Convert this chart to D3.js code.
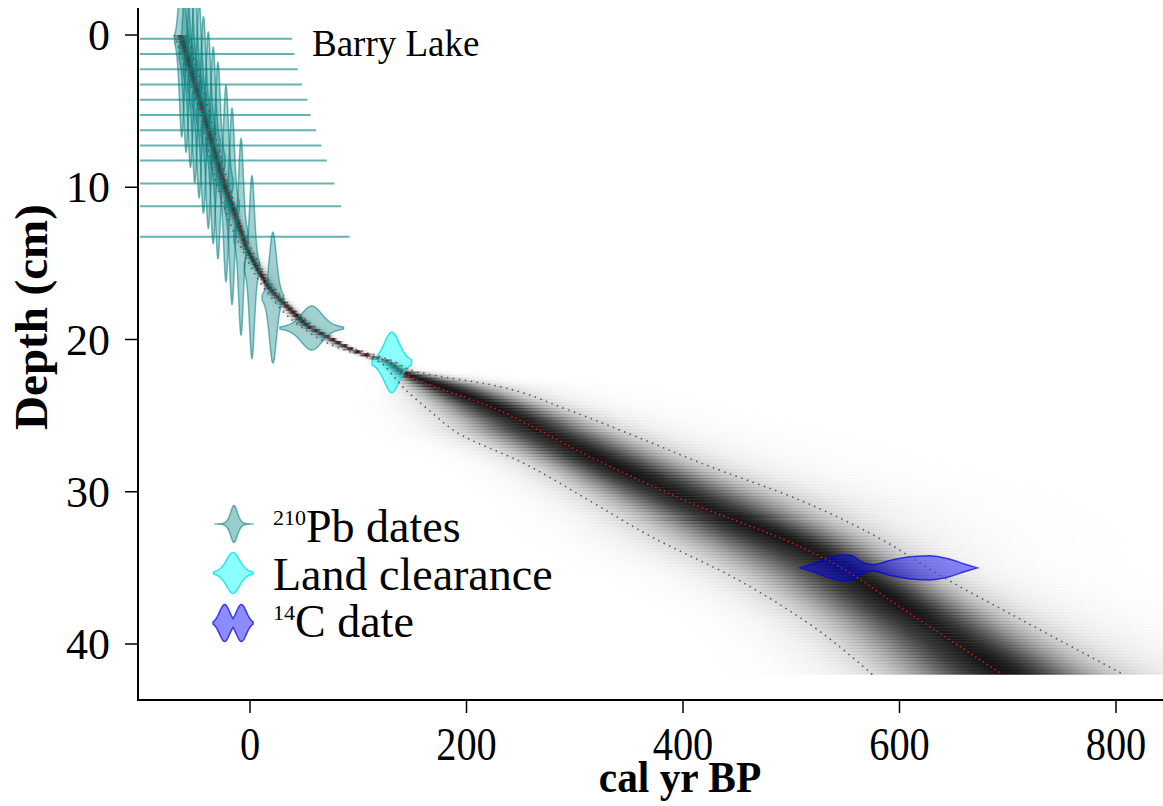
<!DOCTYPE html>
<html lang="en">
<head>
<meta charset="UTF-8">
<title>Barry Lake age-depth model</title>
<script src="https://cdn.jsdelivr.net/npm/d3@7"></script>
<style>
    body{ margin:0; background:#fff; }
    svg{ display:block; font-family:"Liberation Serif","Times New Roman",serif; }
</style>
</head>
<body>
<svg width="1163" height="806"></svg>
<script>
    // age-depth model (cal yr BP)
    var meanDepths = [0, 3, 6, 9, 12, 14, 15.4, 16.5, 17.6, 19.2, 20, 20.9, 21.4, 22.2, 24.4, 27.7, 30.7, 33.6, 34.7, 37.45, 42];
    var meanAges   = [-64, -52, -40, -27, -12, -3, 6.5, 16, 31, 55, 77, 102, 127, 141, 222, 314, 406, 508, 539, 598, 695];

    // 95% range: older and younger bounds
    var oldDepths   = [0, 5, 10, 14, 17, 19, 20.5, 21.5, 22.0, 23.1, 24.6, 26.3, 28.1, 30.55, 33, 35.6, 38.5, 42];
    var oldAges     = [-58, -38, -19, 1, 27, 57, 92, 135, 148, 231, 293, 354, 416, 508, 580, 640, 715, 807];
    var youngDepths = [0, 5, 10, 14, 17, 19, 20.5, 21.5, 22.2, 23.1, 24.8, 26.1, 28.1, 30.6, 33, 35.6, 38.5, 42];
    var youngAges   = [-70, -47, -30, -8, 17, 44, 80, 120, 130, 141, 168, 191, 252, 314, 372, 446, 513, 575];

    // 210Pb dates
    var pbDepths = [0.25, 1.25, 2.25, 3.25, 4.25, 5.25, 6.25, 7.25, 8.25, 9.75, 11.25, 13.25, 15.25, 17.25, 19.25];
    var pbAges   = [-63, -59, -55, -51, -47, -43, -38.5, -34, -29.6, -22.2, -16.6, -8.3, 1.8, 21.2, 57];
    var pbErrors = [2, 2, 2, 2, 2, 2, 2, 2, 2, 2, 2, 2, 2.15, 3, 8.9];
    // horizontal Pb lines (first 12 depths) end at these ages
    var pbLineEnds = [39, 41, 44, 48, 53, 56, 61, 66, 71, 78, 84, 92];

    // land clearance marker
    var lcDepth = 21.5, lcAge = 131, lcError = 6.5;

    // 14C date, calibrated distribution
    var c14Depth = 35.0;
    var c14Ages  = [508, 520, 535, 548, 556, 565, 575, 590, 610, 628, 645, 660, 672];
    var c14Probs = [0, 0.3, 0.75, 1.0, 0.92, 0.45, 0.23, 0.55, 0.85, 0.93, 0.7, 0.3, 0];

    var xTicks = [0, 200, 400, 600, 800];
    var yTicks = [0, 10, 20, 30, 40];

    var svg = d3.select("svg");
    var x = d3.scaleLinear().domain([0, 800]).range([250, 1116]);
    var y = d3.scaleLinear().domain([0, 40]).range([35, 644]);
    var pLeft = 138, pRight = 1163, pTop = 8, pBottom = 700;

    var meanAt = d3.scaleLinear().domain(meanDepths).range(meanAges);
    var oldAt = d3.scaleLinear().domain(oldDepths).range(oldAges);
    var youngAt = d3.scaleLinear().domain(youngDepths).range(youngAges);

    var defs = svg.append("defs");
    defs.append("clipPath").attr("id", "plotclip")
        .append("rect").attr("x", pLeft).attr("y", pTop)
        .attr("width", pRight - pLeft).attr("height", pBottom - pTop);

    var plot = svg.append("g").attr("clip-path", "url(#plotclip)");

    // grey cloud, one gradient row per depth slice
    function shade(z) {
        var a = Math.abs(z);
        var v = 0.9 * (0.66 * Math.exp(-0.5 * Math.pow(a / 0.82, 2))
            + 0.3 * Math.exp(-0.5 * Math.pow(a / 1.35, 2)));
        if (z > 0) v += 0.05 * Math.exp(-0.5 * Math.pow(a / 2.8, 2));
        return v;
    }
    var step = 0.2;
    var cloud = plot.append("g");
    for (var d = 0; d <= 42 + 1e-9; d += step) {
        var m = meanAt(d),
            sdL = Math.max((m - youngAt(d)) / 1.96, 1.5),
            sdR = Math.max((oldAt(d) - m) / 1.96, 1.5);
        var a0 = m - 7 * sdL, a1 = m + 7 * sdR;
        var id = "row" + Math.round(d * 10);
        var g = defs.append("linearGradient").attr("id", id)
            .attr("gradientUnits", "userSpaceOnUse")
            .attr("x1", x(a0)).attr("x2", x(a1)).attr("y1", 0).attr("y2", 0);
        for (var z = -7; z <= 7.001; z += 0.2) {
            var age = m + z * (z < 0 ? sdL : sdR);
            g.append("stop").attr("offset", (age - a0) / (a1 - a0))
                .attr("stop-color", "#000").attr("stop-opacity", shade(z));
        }
        var d0 = Math.max(0, d - step / 2), d1 = Math.min(42, d + step / 2);
        cloud.append("rect")
            .attr("x", x(a0)).attr("width", x(a1) - x(a0))
            .attr("y", y(d0)).attr("height", y(d1) - y(d0) + 0.3)
            .attr("fill", "url(#" + id + ")");
    }

    // horizontal Pb lines
    plot.append("g").selectAll("line").data(pbLineEnds).enter().append("line")
        .attr("x1", pLeft + 2).attr("x2", function (a) { return x(a); })
        .attr("y1", function (a, i) { return y(pbDepths[i]); })
        .attr("y2", function (a, i) { return y(pbDepths[i]); })
        .attr("stroke", "rgba(0,128,128,0.6)").attr("stroke-width", 2);

    // student-t shaped date distributions
    function tdens(z) { return Math.pow(4 + z * z / 2, -3.5); }
    var tArea = 0;
    for (var zz = -60; zz <= 60; zz += 0.01) tArea += tdens(zz) * 0.01;
    var dateScale = 38.9; // cm * yr

    function datePoints(depth, mu, sd, span) {
        var pts = [];
        for (var i = 0; i <= 120; i++) {
            var age = mu - span * sd + i * 2 * span * sd / 120;
            var p = tdens((age - mu) / sd) / (tArea * sd);
            pts.push({age: age, depth: depth, h: dateScale * p});
        }
        return pts;
    }
    var dateArea = d3.area()
        .x(function (p) { return x(p.age); })
        .y0(function (p) { return y(p.depth - p.h); })
        .y1(function (p) { return y(p.depth + p.h); })
        .curve(d3.curveLinear);

    plot.append("g").selectAll("path").data(pbDepths).enter().append("path")
        .attr("d", function (dp, i) { return dateArea(datePoints(dp, pbAges[i], pbErrors[i], 3.3)); })
        .attr("fill", "rgba(0,128,128,0.36)")
        .attr("stroke", "rgba(0,128,128,0.55)").attr("stroke-width", 1.5);

    plot.append("path")
        .attr("d", dateArea(datePoints(lcDepth, lcAge, lcError, 2.8)))
        .attr("fill", "rgba(0,255,255,0.45)")
        .attr("stroke", "rgba(0,225,225,0.8)").attr("stroke-width", 1.5);

    var c14h = d3.scaleLinear().domain([0, 1]).range([0, 0.86]);
    var c14pts = c14Ages.map(function (a, i) { return {age: a, depth: c14Depth, h: c14h(c14Probs[i])}; });
    plot.append("path")
        .attr("d", dateArea.curve(d3.curveMonotoneX)(c14pts))
        .attr("fill", "rgba(0,0,255,0.45)")
        .attr("stroke", "rgba(0,0,220,0.7)").attr("stroke-width", 1.5);

    // mean and 95% range lines
    function lineOf(ds, as) {
        return d3.line().curve(d3.curveMonotoneY)
            .x(function (a) { return x(a); })
            .y(function (a, i) { return y(ds[i]); })(as);
    }
    plot.append("path").attr("d", lineOf(oldDepths, oldAges)).attr("fill", "none")
        .attr("stroke", "#555").attr("stroke-width", 1.5).attr("stroke-dasharray", "1.5 4.5");
    plot.append("path").attr("d", lineOf(youngDepths, youngAges)).attr("fill", "none")
        .attr("stroke", "#555").attr("stroke-width", 1.5).attr("stroke-dasharray", "1.5 4.5");
    plot.append("path").attr("d", lineOf(meanDepths, meanAges)).attr("fill", "none")
        .attr("stroke", "#d01818").attr("stroke-width", 1.6).attr("stroke-dasharray", "1.6 3");

    // axes
    var ax = svg.append("g");
    ax.append("line").attr("x1", pLeft).attr("x2", pLeft).attr("y1", pTop).attr("y2", pBottom + 1)
        .attr("stroke", "#000").attr("stroke-width", 2);
    ax.append("line").attr("x1", pLeft - 1).attr("x2", pRight).attr("y1", pBottom).attr("y2", pBottom)
        .attr("stroke", "#000").attr("stroke-width", 2);
    ax.selectAll(".yt").data(yTicks).enter().append("line")
        .attr("x1", pLeft - 13).attr("x2", pLeft)
        .attr("y1", function (d) { return y(d); }).attr("y2", function (d) { return y(d); })
        .attr("stroke", "#000").attr("stroke-width", 1.5);
    ax.selectAll(".yl").data(yTicks).enter().append("text")
        .attr("x", 110).attr("y", function (d) { return y(d) + 15; })
        .attr("text-anchor", "end").attr("font-size", 44).text(function (d) { return d; });
    ax.selectAll(".xt").data(xTicks).enter().append("line")
        .attr("x1", function (d) { return x(d); }).attr("x2", function (d) { return x(d); })
        .attr("y1", pBottom).attr("y2", pBottom + 13)
        .attr("stroke", "#000").attr("stroke-width", 1.5);
    ax.selectAll(".xl").data(xTicks).enter().append("text")
        .attr("transform", function (d) { return "translate(" + x(d) + ",760) scale(0.86,1)"; })
        .attr("text-anchor", "middle").attr("font-size", 47).text(function (d) { return d; });

    svg.append("text").attr("transform", "translate(680,792) scale(0.92,1)").attr("text-anchor", "middle")
        .attr("font-size", 45).attr("font-weight", "bold").text("cal yr BP");
    svg.append("text").attr("transform", "translate(47,317) rotate(-90)")
        .attr("text-anchor", "middle").attr("font-size", 47).attr("font-weight", "bold")
        .text("Depth (cm)");
    svg.append("text").attr("x", 312).attr("y", 56).attr("font-size", 37).text("Barry Lake");

    // legend
    function glyph(cx, cy, w, h, f) {
        var pts = d3.range(0, 61).map(function (i) { return -1 + i / 30; });
        var area = d3.area()
            .x(function (u) { return cx + u * w / 2; })
            .y0(function (u) { return cy - f(u) * h / 2; })
            .y1(function (u) { return cy + f(u) * h / 2; });
        return area(pts);
    }
    var lg = svg.append("g");
    lg.append("path").attr("d", glyph(234, 524, 38, 37, function (u) { return tdens(u * 6) / tdens(0); }))
        .attr("fill", "rgba(0,128,128,0.4)").attr("stroke", "rgba(0,128,128,0.55)").attr("stroke-width", 1.5);
    lg.append("path").attr("d", glyph(233, 573, 39, 41, function (u) { return tdens(u * 3.2) / tdens(0); }))
        .attr("fill", "rgba(0,255,255,0.45)").attr("stroke", "rgba(0,225,225,0.8)").attr("stroke-width", 1.5);
    lg.append("path").attr("d", glyph(233, 623, 40, 37, function (u) {
            return Math.max(Math.exp(-0.5 * Math.pow((u + 0.42) / 0.25, 2)), Math.exp(-0.5 * Math.pow((u - 0.42) / 0.25, 2)));
        }))
        .attr("fill", "rgba(0,0,255,0.45)").attr("stroke", "rgba(0,0,220,0.7)").attr("stroke-width", 1.5);

    var labels = [["210", "Pb dates", 542], ["", "Land clearance", 590], ["14", "C date", 637]];
    labels.forEach(function (l) {
        var t = lg.append("text").attr("x", 273).attr("y", l[2]).attr("font-size", 46);
        if (l[0]) {
            t.append("tspan").attr("font-size", 22).attr("dy", -17).text(l[0]);
            t.append("tspan").attr("dy", 17).text(l[1]);
        } else {
            t.text(l[1]);
        }
    });
</script>
</body>
</html>
